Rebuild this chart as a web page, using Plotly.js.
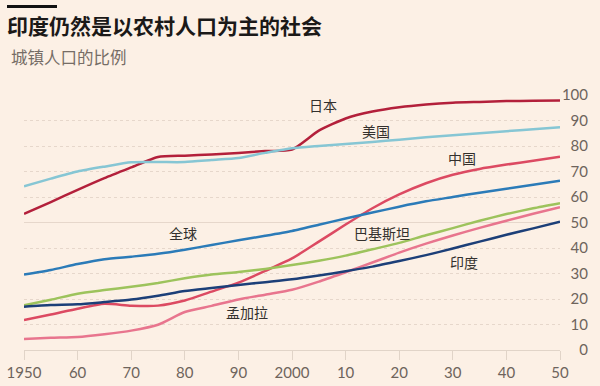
<!DOCTYPE html>
<html>
<head>
<meta charset="utf-8">
<script src="https://cdn.plot.ly/plotly-3.0.1.min.js"></script>
<style>html,body{margin:0;padding:0;background:#fcf0e5;}</style>
</head>
<body>
<div id="chart" style="width:600px;height:386px;"></div>
<script>
const years = [1950,1955,1960,1965,1970,1975,1980,1985,1990,1995,2000,2005,2010,2015,2020,2025,2030,2035,2040,2045,2050];
const japan = [53.4,58.0,62.8,67.4,71.6,75.7,76.2,76.7,77.3,78.0,78.6,86.0,90.8,93.5,95.2,96.3,97.0,97.3,97.6,97.7,97.8];
const usa = [64.2,67.2,70.0,71.9,73.6,73.7,73.7,74.5,75.3,77.3,79.1,80.0,80.8,81.6,82.5,83.4,84.2,85.0,85.8,86.6,87.4];
const china = [11.8,13.9,16.2,18.1,17.4,17.4,19.4,22.9,26.4,31.0,35.9,42.5,49.2,55.6,61.0,65.4,68.7,71.0,72.7,74.2,75.8];
const world = [29.6,31.4,33.7,35.6,36.6,37.7,39.3,41.2,43.0,44.8,46.7,49.1,51.6,53.9,56.2,58.3,60.0,61.7,63.2,64.8,66.4];
const pakistan = [17.5,19.7,22.1,23.5,24.8,26.3,28.1,29.6,30.6,31.8,33.3,35.0,37.0,39.5,42.0,45.0,47.8,50.7,53.3,55.6,57.6];
const bangladesh = [4.3,4.8,5.1,6.2,7.6,9.9,14.9,17.3,19.8,21.7,23.6,26.8,30.5,34.3,38.2,41.7,44.9,47.9,50.7,53.4,56.0];
const india = [17.0,17.6,17.9,18.8,19.8,21.3,23.1,24.3,25.5,26.6,27.7,29.2,30.9,32.7,34.9,37.2,39.8,42.5,45.2,47.7,50.3];

const xTickVals = [1950,1960,1970,1980,1990,2000,2010,2020,2030,2040,2050];
const xTickText = ['1950','60','70','80','90','2000','10','20','30','40','50'];
const yTickVals = [0,10,20,30,40,50,60,70,80,90,100];

const seriesNames = ['日本','美国','中国','全球','巴基斯坦','孟加拉','印度'];
const seriesData = [japan, usa, china, world, pakistan, bangladesh, india];
const seriesColors = ['#b3203b','#86c6d4','#dc4a62','#2b7bb8','#9dc35c','#e8758e','#1c3f78'];

// label anchor positions (year, value)
const labelX = [2005.8, 2015.7, 2031.7, 1979.7, 2016.8, 1991.6, 2032.1];
const labelY = [96.1, 86.0, 75.3, 45.9, 46.0, 15.0, 34.6];

const traces = seriesData.map((d, i) => ({
  x: years, y: d, type: 'scatter', mode: 'lines', name: seriesNames[i],
  line: {color: seriesColors[i], width: 2.5, shape: 'spline', smoothing: 0.6},
  hoverinfo: 'skip', showlegend: false,
  xaxis: 'x', yaxis: i === seriesData.length - 1 ? 'y2' : 'y'
}));

const annotations = seriesNames.map((n, i) => ({
  x: labelX[i], y: labelY[i], xref: 'x', yref: 'y', text: n, showarrow: false,
  xanchor: 'center', yanchor: 'middle',
  font: {family: 'Noto Sans CJK SC', size: 14, color: '#33302d'}
}));
annotations.push({
  x: -0.0266, y: 1.149, xref: 'paper', yref: 'paper', text: '城镇人口的比例',
  showarrow: false, xanchor: 'left', yanchor: 'middle',
  font: {family: 'Noto Sans CJK SC', size: 16.5, color: '#766d66'}
});

const layout = {
  width: 600, height: 386,
  paper_bgcolor: '#fcf0e5', plot_bgcolor: 'rgba(0,0,0,0)',
  margin: {l: 24, r: 12, t: 95, b: 36},
  title: {
    text: '印度仍然是以农村人口为主的社会',
    xref: 'container', yref: 'container', x: 7/600, xanchor: 'left',
    y: 1 - 27/386, yanchor: 'middle',
    font: {family: 'Noto Sans CJK SC', size: 21, weight: 'bold', color: '#1b1918'}
  },
  xaxis: {
    domain: [0, 536/564], range: [1950, 2050],
    tickmode: 'array', tickvals: xTickVals, ticktext: xTickText,
    showline: true, linecolor: '#e1d4c8', linewidth: 1,
    ticks: 'outside', ticklen: 9, tickcolor: '#e1d4c8', tickwidth: 1,
    showgrid: false, zeroline: false,
    tickfont: {family: 'Lato', size: 15, color: '#6e645c'}
  },
  yaxis: {
    range: [0, 100], showticklabels: false, ticks: '',
    tickmode: 'array', tickvals: [50],
    showgrid: true, gridcolor: '#e6d7cb', gridwidth: 1, zeroline: false,
    minor: {tickmode: 'array', tickvals: [10,20,30,40,60,70,80,90,100],
            showgrid: true, gridcolor: '#e6d7cb', gridwidth: 1, griddash: '3px,3px', ticks: ''}
  },
  yaxis2: {
    overlaying: 'y', anchor: 'free', position: 1, side: 'left',
    range: [0, 100], tickmode: 'array', tickvals: yTickVals,
    showgrid: false, zeroline: false, ticks: '', showline: false,
    tickfont: {family: 'Lato', size: 15, color: '#6e645c'}
  },
  shapes: [{
    type: 'line', xref: 'paper', yref: 'paper',
    x0: -17/564, x1: 33/564, y0: (350-6.5)/255, y1: (350-6.5)/255,
    line: {color: '#111', width: 3}
  }],
  annotations: annotations
};

Plotly.newPlot('chart', traces, layout, {displayModeBar: false, staticPlot: true});
</script>
</body>
</html>
